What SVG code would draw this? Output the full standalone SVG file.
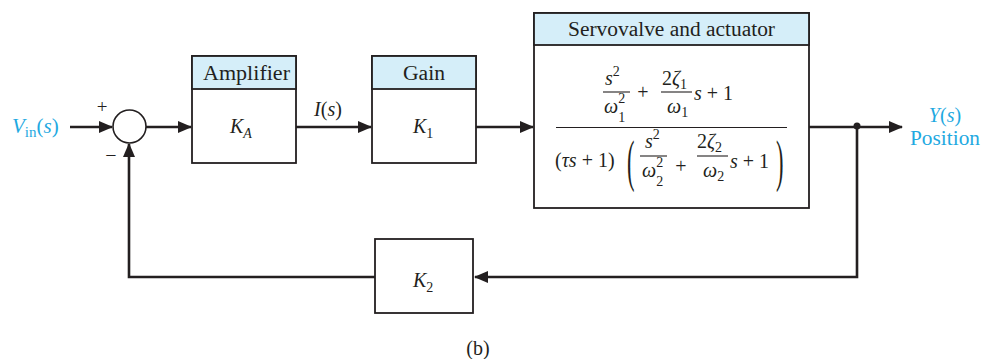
<svg xmlns="http://www.w3.org/2000/svg" width="982" height="359" viewBox="0 0 982 359">
<style>
.box{fill:#fff;stroke:#231f20;stroke-width:1.8}
.hdr{fill:#d5eef9;stroke:#231f20;stroke-width:1.8}
.ln{fill:none;stroke:#231f20;stroke-width:2.6}
.t{font-family:"Liberation Serif","Times New Roman",serif;font-size:20px;fill:#231f20}
.i{font-style:italic}
.n{font-style:normal}
.b{fill:#1fa9e1}
.sm{font-size:14px}
.fb{stroke:#231f20;stroke-width:1.1}
</style>
<defs>
<marker id="ah" markerWidth="14" markerHeight="12" refX="13" refY="6" orient="auto" markerUnits="userSpaceOnUse">
<path d="M0,0 L14,6 L0,12 Z" fill="#231f20"/>
</marker>
</defs>
<g id="connectors">
<line class="ln" x1="70" y1="127" x2="112" y2="127" marker-end="url(#ah)"/>
<line class="ln" x1="146" y1="127" x2="191" y2="127" marker-end="url(#ah)"/>
<line class="ln" x1="296" y1="127" x2="371" y2="127" marker-end="url(#ah)"/>
<line class="ln" x1="476" y1="127" x2="533" y2="127" marker-end="url(#ah)"/>
<line class="ln" x1="809" y1="127" x2="902" y2="127" marker-end="url(#ah)"/>
<polyline class="ln" points="857,127 857,277 475,277" marker-end="url(#ah)"/>
<polyline class="ln" points="375,277 129,277 129,144" marker-end="url(#ah)"/>
<circle cx="857" cy="126" r="3.5" fill="#231f20"/>
</g>
<g id="sum">
<circle cx="129.5" cy="126.5" r="16.5" fill="#fff" stroke="#231f20" stroke-width="1.6"/>
<text class="t" x="102" y="113" text-anchor="middle" style="font-size:19px">+</text>
<text class="t" x="111" y="162" text-anchor="middle" style="font-size:20px">−</text>
</g>
<g id="input">
<text class="t b" x="12" y="133" style="font-size:21px"><tspan class="i">V</tspan><tspan style="font-size:15px" dy="4">in</tspan><tspan dy="-4">(</tspan><tspan class="i">s</tspan>)</text>
</g>
<g id="amplifier">
<rect class="box" x="192" y="56" width="104" height="107"/>
<rect class="hdr" x="192" y="56" width="104" height="33"/>
<text class="t" x="203" y="80" textLength="87" lengthAdjust="spacingAndGlyphs">Amplifier</text>
<text class="t" x="230" y="133"><tspan class="i">K</tspan><tspan class="i sm" dy="5">A</tspan></text>
</g>
<g id="is-label">
<text class="t" x="328" y="116" text-anchor="middle"><tspan class="i">I</tspan>(<tspan class="i">s</tspan>)</text>
</g>
<g id="gain">
<rect class="box" x="372" y="56" width="104" height="107"/>
<rect class="hdr" x="372" y="56" width="104" height="33"/>
<text class="t" x="403" y="80" textLength="42" lengthAdjust="spacingAndGlyphs">Gain</text>
<text class="t" x="413" y="133"><tspan class="i">K</tspan><tspan class="sm" dy="5">1</tspan></text>
</g>
<g id="servovalve">
<rect class="box" x="534" y="13" width="275" height="195"/>
<rect class="hdr" x="534" y="13" width="275" height="32"/>
<text class="t" x="568" y="36" textLength="207" lengthAdjust="spacingAndGlyphs">Servovalve and actuator</text>
<line class="fb" x1="556" y1="127.5" x2="787" y2="127.5"/>
<!-- numerator -->
<text class="t i" x="605" y="85">s<tspan class="n sm" dy="-9">2</tspan></text>
<line class="fb" x1="603" y1="92" x2="630" y2="92"/>
<text class="t i" x="604" y="113">ω<tspan class="n sm" dy="-10">2</tspan><tspan class="n sm" dx="-7" dy="19">1</tspan></text>
<text class="t" x="643" y="99" text-anchor="middle">+</text>
<text class="t" x="662" y="85">2<tspan class="i">ζ</tspan><tspan class="sm" dy="4">1</tspan></text>
<line class="fb" x1="661" y1="92" x2="692" y2="92"/>
<text class="t i" x="667" y="113">ω<tspan class="n sm" dy="4">1</tspan></text>
<text class="t" x="694" y="100"><tspan class="i">s</tspan> + 1</text>
<!-- denominator -->
<text class="t" x="555" y="167">(<tspan class="i">τs</tspan> + 1)</text>
<text class="t" x="627" y="172.7" style="font-size:30px" transform="translate(627 165) scale(0.75 1.9) translate(-627 -165)">(</text>
<text class="t i" x="645" y="148">s<tspan class="n sm" dy="-9">2</tspan></text>
<line class="fb" x1="640" y1="156" x2="667" y2="156"/>
<text class="t i" x="642" y="177">ω<tspan class="n sm" dy="-10">2</tspan><tspan class="n sm" dx="-7" dy="19">2</tspan></text>
<text class="t" x="681" y="173" text-anchor="middle">+</text>
<text class="t" x="697" y="148">2<tspan class="i">ζ</tspan><tspan class="sm" dy="4">2</tspan></text>
<line class="fb" x1="697" y1="156" x2="728" y2="156"/>
<text class="t i" x="703" y="177">ω<tspan class="n sm" dy="4">2</tspan></text>
<text class="t" x="730" y="168"><tspan class="i">s</tspan> + 1</text>
<text class="t" x="776" y="172.7" style="font-size:30px" transform="translate(776 165) scale(0.75 1.9) translate(-776 -165)">)</text>
</g>
<g id="output">
<text class="t b" x="945" y="122" text-anchor="middle"><tspan class="i">Y</tspan>(<tspan class="i">s</tspan>)</text>
<text class="t b" x="945" y="145" text-anchor="middle" textLength="70" lengthAdjust="spacingAndGlyphs">Position</text>
</g>
<g id="k2">
<rect class="box" x="375" y="239" width="98" height="74"/>
<text class="t" x="413" y="287"><tspan class="i">K</tspan><tspan class="sm" dy="5">2</tspan></text>
</g>
<text class="t" x="478" y="355" text-anchor="middle">(b)</text>
</svg>
